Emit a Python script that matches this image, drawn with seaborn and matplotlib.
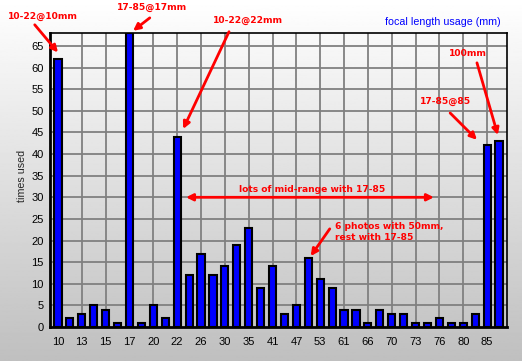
import numpy as np
import pandas as pd
import seaborn as sns
import matplotlib.pyplot as plt
from matplotlib.ticker import MultipleLocator

# focal lengths (mm); only every other one is labelled on the axis
focal = ["10", "11", "13", "14", "15", "16", "17", "18", "20", "21",
         "22", "24", "26", "28", "30", "32", "35", "38", "41", "44",
         "47", "50", "53", "57", "61", "63", "66", "68", "70", "71",
         "73", "75", "76", "78", "80", "83", "85", "100"]
times_used = [62, 2, 3, 5, 4, 1, 68, 1, 5, 2,
              44, 12, 17, 12, 14, 19, 23, 9, 14, 3,
              5, 16, 11, 9, 4, 4, 1, 4, 3, 3,
              1, 1, 2, 1, 1, 3, 42, 43]
tick_labels = focal[0:37:2]

df = pd.DataFrame({"focal": focal, "times": times_used})

sns.set_theme(style="white")
plt.rcParams["font.family"] = ["Liberation Sans", "DejaVu Sans"]

fig = plt.figure(figsize=(5.22, 3.61), dpi=100)

# vertical background gradient over the whole picture
bg = fig.add_axes([0, 0, 1, 1], zorder=-1)
grad = np.linspace(1.0, 0.75, 256).reshape(-1, 1)
bg.imshow(grad, aspect="auto", cmap="gray", vmin=0, vmax=1, extent=[0, 1, 0, 1])
bg.axis("off")

ax = fig.add_axes([50 / 522, 34 / 361, 457 / 522, 294 / 361])
ax.patch.set_alpha(0)

sns.barplot(data=df, x="focal", y="times", order=focal, color="#0000ff",
            saturation=1, edgecolor="black", linewidth=1.5, width=0.6,
            ax=ax, zorder=2)

ax.set_xlim(-0.67, 37.67)
ax.set_ylim(0, 68)

# grid
for i in range(2, 38, 2):
    ax.axvline(i, color="#808080", lw=1.3, zorder=0.5)
for v in range(5, 68, 5):
    ax.axhline(v, color="#808080", lw=1.3, zorder=0.5)

ax.set_xticks(range(0, 38, 2))
ax.set_xticklabels(tick_labels)
ax.xaxis.set_minor_locator(MultipleLocator(0.5))
ax.yaxis.set_major_locator(MultipleLocator(5))
ax.yaxis.set_minor_locator(MultipleLocator(1))
ax.tick_params(axis="both", which="major", labelsize=8, colors="black",
               length=4, width=1, direction="out", pad=2)
ax.tick_params(axis="x", which="minor", length=2.5, width=0.8, color="#404040")
ax.tick_params(axis="y", which="minor", length=3, width=0.8, direction="inout")
ax.tick_params(axis="y", which="major", length=5, direction="inout")
ax.tick_params(axis="x", which="major", pad=3)

ax.set_xlabel("")
ax.set_ylabel("")
for s in ["top", "right"]:
    ax.spines[s].set_linewidth(1.2)
    ax.spines[s].set_color("black")
for s in ["left", "bottom"]:
    ax.spines[s].set_linewidth(2)
    ax.spines[s].set_color("black")

fig.text(22 / 522, (361 - 176) / 361, "times used", rotation=90,
         ha="center", va="center", fontsize=7.7)
fig.text(501 / 522, (361 - 22) / 361, "focal length usage (mm)",
         ha="right", va="center", fontsize=7.7, color="#0000ff")

# red annotations
red = "#ff0000"
tfont = dict(color=red, fontsize=6.6, fontweight="bold",
             family="DejaVu Sans", ha="center", va="center",
             annotation_clip=False)
arrow = dict(arrowstyle="-|>", color=red, lw=2, mutation_scale=10,
             shrinkA=0, shrinkB=0)


def note(text, txy, tail, head):
    ax.annotate(text, xy=txy, xycoords="data", **tfont)
    ax.annotate("", xy=head, xytext=tail, arrowprops=arrow,
                annotation_clip=False)


note("10-22@10mm", (-1.26, 71.8), (-1.95, 69.9), (0.0, 63.5))
note("17-85@17mm", (7.9, 73.8), (7.7, 71.5), (6.3, 68.5))
note("10-22@22mm", (15.9, 70.8), (14.35, 68.3), (10.5, 45.8))
note("100mm", (34.4, 63.2), (35.15, 61.1), (36.9, 44.4))
note("17-85@85", (32.5, 52.1), (32.9, 49.5), (35.15, 43.3))
note("", (0, 0), (22.8, 22.7), (21.2, 16.4))

ax.annotate("lots of mid-range with 17-85", xy=(21.3, 31.7), **tfont)
ax.annotate("", xy=(10.74, 30), xytext=(31.54, 30),
            arrowprops=dict(arrowstyle="<|-|>", color=red, lw=2,
                            mutation_scale=10, shrinkA=0, shrinkB=0))
ax.annotate("6 photos with 50mm,\nrest with 17-85", xy=(23.2, 22.0),
            xycoords="data", color=red, fontsize=6.6, fontweight="bold",
            family="DejaVu Sans", ha="left", va="center", linespacing=1.3)

fig.savefig("out.png", dpi=100)
